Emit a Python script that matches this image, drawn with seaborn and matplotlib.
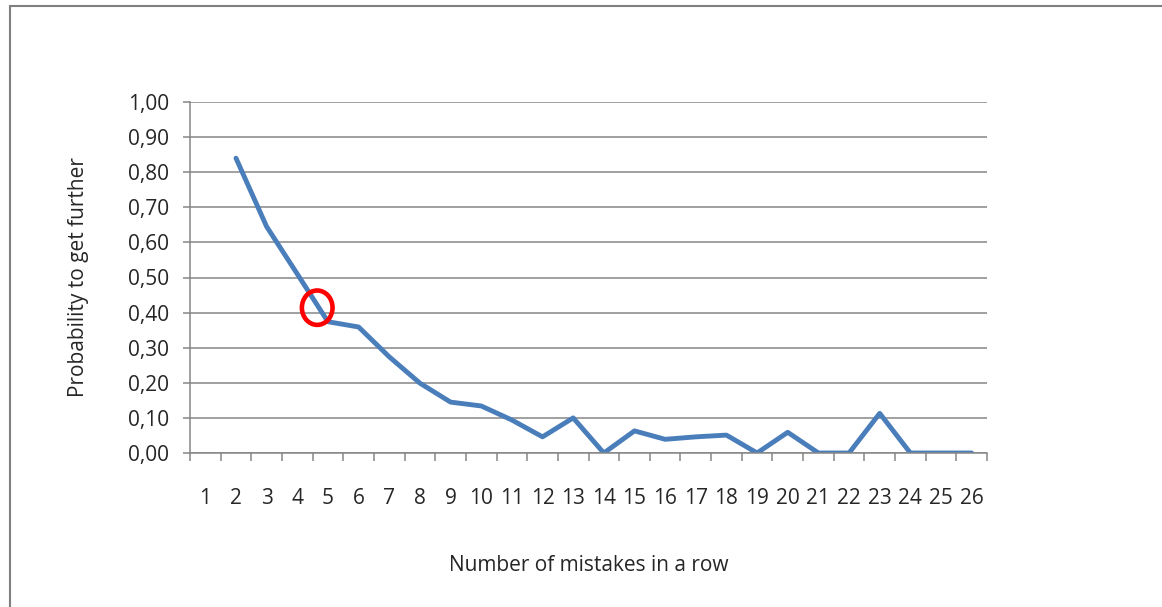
import numpy as np
import pandas as pd
import matplotlib
matplotlib.use("Agg")
import matplotlib.pyplot as plt
import seaborn as sns
from matplotlib.patches import Ellipse
from matplotlib.lines import Line2D

mistakes = list(range(1, 27))
prob = [np.nan, 0.84, 0.645, 0.51, 0.374, 0.359, 0.274, 0.199, 0.145, 0.134,
        0.094, 0.046, 0.10, 0.0, 0.063, 0.039, 0.046, 0.051, 0.0, 0.059,
        0.0, 0.0, 0.113, 0.0, 0.0, 0.0]
yticks = [0.0, 0.1, 0.2, 0.3, 0.4, 0.5, 0.6, 0.7, 0.8, 0.9, 1.0]

df = pd.DataFrame({"mistakes": mistakes, "prob": prob})

sns.set_style("white")
plt.rcParams['font.family'] = ['Open Sans', 'DejaVu Sans']

grey = "#868686"
fs = 15
fig = plt.figure(figsize=(11.62, 6.07), dpi=100)
ax = fig.add_axes([190 / 1162, 1 - 453 / 607, (987 - 190) / 1162, (453 - 102) / 607])

sns.lineplot(data=df, x="mistakes", y="prob", ax=ax, color="#4A7EBB", linewidth=3.5)

ax.set_xlim(0.5, 26.5)
ax.set_ylim(0, 1.0)
ax.set_yticks(yticks)
ax.set_yticklabels([f"{v:.2f}".replace(".", ",") for v in yticks], fontsize=fs)
ax.yaxis.grid(True, color=grey, linewidth=1.1)
ax.set_axisbelow(True)

# category boundaries as ticks, labels centred on categories
ax.set_xticks(np.arange(0.5, 27, 1))
ax.set_xticklabels([])
ax.set_xticks(mistakes, minor=True)
ax.set_xticklabels([str(m) for m in mistakes], minor=True, fontsize=fs)
ax.tick_params(axis="x", which="major", bottom=True, length=6, width=1.1, color=grey, direction="out")
ax.tick_params(axis="x", which="minor", bottom=True, length=0, pad=25)
ax.tick_params(axis="y", left=True, length=5, width=1.1, color=grey, direction="out", pad=10)

for s in ["top", "right"]:
    ax.spines[s].set_visible(False)
for s in ["left", "bottom"]:
    ax.spines[s].set_color(grey)
    ax.spines[s].set_linewidth(1.1)

ax.set_xlabel("Number of mistakes in a row", fontsize=fs, labelpad=33)
ax.set_ylabel("Probability to get further", fontsize=fs, labelpad=28)

# red circle highlighting the point at 5 mistakes
ax.add_patch(Ellipse((4.65, 0.414), 1.0, 0.098, fill=False, edgecolor="red",
                     linewidth=3.3, zorder=5))

# chart-area frame (top and left edges visible)
fig.add_artist(Line2D([9.5 / 1162, 9.5 / 1162], [0, 1 - 5.5 / 607], color="#7f7f7f", lw=1.5))
fig.add_artist(Line2D([9.5 / 1162, 1], [1 - 5.5 / 607, 1 - 5.5 / 607], color="#7f7f7f", lw=1.5))

fig.savefig("out.png", dpi=100, facecolor="white")
